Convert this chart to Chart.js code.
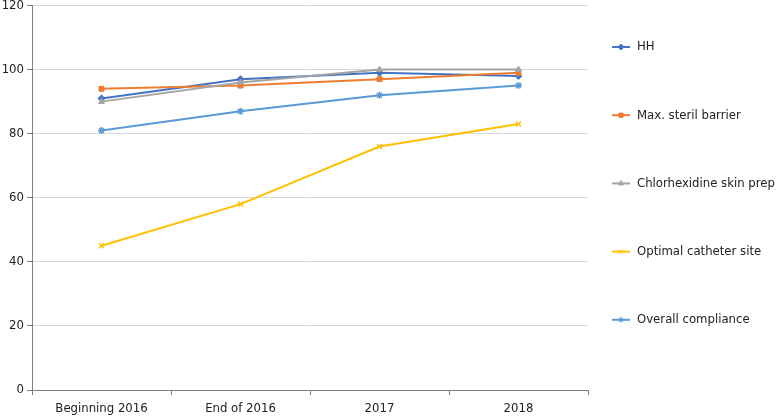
<!DOCTYPE html>
<html>
<head>
<meta charset="utf-8">
<script src="https://cdn.jsdelivr.net/npm/chart.js@4/dist/chart.umd.min.js"></script>
<style>
  html, body { margin: 0; padding: 0; background: #fff; }
  #wrap { width: 776px; height: 416px; }
</style>
</head>
<body>
<div id="wrap"><canvas id="cvs" width="776" height="416"></canvas></div>
<script>
const categories = ["Beginning 2016", "End of 2016", "2017", "2018"];
const seriesNames = ["HH", "Max. steril barrier", "Chlorhexidine skin prep", "Optimal catheter site", "Overall compliance"];
const hh = [91, 97, 99, 98];
const sterilBarrier = [94, 95, 97, 99];
const chlorhexidine = [90, 96, 100, 100];
const catheterSite = [45, 58, 76, 83];
const overall = [81, 87, 92, 95];
const yTicks = [0, 20, 40, 60, 80, 100, 120];

const colors = ["#4472C4", "#ED7D31", "#A5A5A5", "#FFC000", "#5B9BD5"];
const markers = ["rectRot", "rect", "triangle", "crossRot", "star"];
const allValues = [hh, sterilBarrier, chlorhexidine, catheterSite, overall];

var font = "'DejaVu Sans Condensed', 'DejaVu Sans', sans-serif";

var datasets = [];
for (var i = 0; i < allValues.length; i++) {
  datasets.push({
    label: seriesNames[i],
    data: allValues[i],
    borderColor: colors[i],
    backgroundColor: colors[i],
    borderWidth: 2,
    pointStyle: markers[i],
    pointRadius: 3.5,
    pointBorderWidth: (markers[i] == "crossRot" || markers[i] == "star") ? 1.5 : 1,
    tension: 0,
    order: allValues.length - i
  });
}

// legend drawn on the right, one item every 68px
var sideLegend = {
  id: "sideLegend",
  afterDraw: function(chart) {
    var ctx = chart.ctx;
    ctx.save();
    ctx.font = "13px " + font;
    ctx.textBaseline = "middle";
    for (var i = 0; i < chart.data.datasets.length; i++) {
      var ds = chart.data.datasets[i];
      var y = 47 + i * 68.2;
      ctx.strokeStyle = ds.borderColor;
      ctx.lineWidth = 2;
      ctx.beginPath();
      ctx.moveTo(612, y);
      ctx.lineTo(630, y);
      ctx.stroke();
      ctx.lineWidth = 1;
      ctx.fillStyle = ds.backgroundColor;
      Chart.helpers.drawPoint(ctx, {
        pointStyle: ds.pointStyle, radius: 3, rotation: 0, borderWidth: 1
      }, 621, y);
      ctx.fillStyle = "#222";
      ctx.fillText(ds.label, 637, y);
    }
    ctx.restore();
  }
};

new Chart(document.getElementById("cvs"), {
  type: "line",
  data: { labels: categories, datasets: datasets },
  plugins: [sideLegend],
  options: {
    responsive: false,
    animation: false,
    layout: { padding: { top: 5, right: 188, left: 0, bottom: 0 } },
    plugins: { legend: { display: false }, tooltip: { enabled: false } },
    scales: {
      x: {
        offset: true,
        afterFit: function(s) { s.height = 26; },
        grid: { offset: true, drawOnChartArea: false, tickLength: 5, tickColor: "#808080" },
        border: { color: "#808080" },
        ticks: { font: { family: font, size: 13 }, color: "#222", padding: 6 }
      },
      y: {
        min: 0,
        max: 120,
        afterFit: function(s) { s.width = 32; s.paddingTop = 0; },
        afterBuildTicks: function(s) { s.ticks = yTicks.map(function(v) { return { value: v }; }); },
        grid: { color: "#d9d9d9", tickLength: 5, tickColor: "#808080" },
        border: { color: "#808080" },
        ticks: { font: { family: font, size: 13 }, color: "#222", padding: 3 }
      }
    }
  }
});
</script>
</body>
</html>
